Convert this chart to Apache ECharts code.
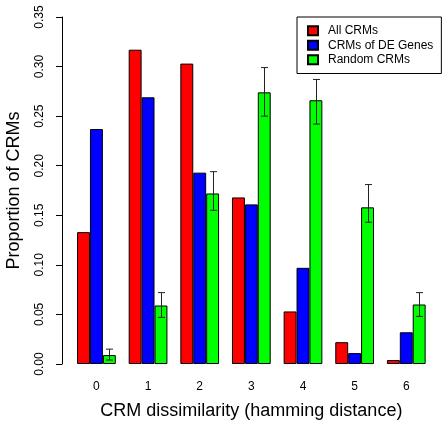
<!DOCTYPE html>
<html>
<head>
<meta charset="utf-8">
<script src="https://cdn.jsdelivr.net/npm/echarts@6/dist/echarts.min.js"></script>
<style>html,body{margin:0;padding:0;background:#fff;}#c{width:443px;height:426px;}</style>
</head>
<body>
<div id="c"></div>
<script>
const categories = ['0','1','2','3','4','5','6'];
const allCRMs = [0.133, 0.317, 0.303, 0.168, 0.053, 0.022, 0.004];
const deCRMs = [0.237, 0.269, 0.193, 0.161, 0.097, 0.011, 0.032];
const randomCRMs = [0.009, 0.059, 0.172, 0.274, 0.266, 0.158, 0.060];
const randomLow = [0.004, 0.047, 0.155, 0.250, 0.242, 0.143, 0.048];
const randomHigh = [0.015, 0.072, 0.194, 0.299, 0.287, 0.181, 0.072];
const yTicks = [0, 0.05, 0.10, 0.15, 0.20, 0.25, 0.30, 0.35];

const chart = echarts.init(document.getElementById('c'), null, {renderer:'canvas'});
const font = 'Liberation Sans, Arial, Helvetica, sans-serif';
const barStyle = c => ({color: c, borderColor: '#000', borderWidth: 1});
const option = {
  animation: false,
  backgroundColor: '#fff',
  textStyle: {fontFamily: font},
  grid: {left: 70.6, right: 10.9, top: 17, bottom: 62, containLabel: false, outerBoundsMode: 'none'},
  legend: {
    orient: 'vertical', left: 297, top: 17,
    borderColor: '#000', borderWidth: 1, borderRadius: 0,
    padding: [7, 8, 7, 10],
    itemWidth: 10, itemHeight: 9, itemGap: 1,
    icon: 'rect',
    textStyle: {fontFamily: font, fontSize: 12, color: '#000', padding: [0,0,0,5], lineHeight: 14.5, height: 13.5},
    data: ['All CRMs', 'CRMs of DE Genes', 'Random CRMs']
  },
  xAxis: {
    type: 'category', data: categories,
    axisLine: {show: false}, axisTick: {show: false},
    axisLabel: {color: '#000', fontSize: 12, margin: 17, fontFamily: font},
    name: 'CRM dissimilarity (hamming distance)', nameLocation: 'middle', nameGap: 38,
    nameTextStyle: {fontSize: 18, color: '#000', fontFamily: font}
  },
  yAxis: {
    type: 'value', min: 0, max: 0.35, interval: 0.05, offset: 8.6,
    splitLine: {show: false},
    axisLine: {show: true, lineStyle: {color: '#000', width: 1}},
    axisTick: {show: true, length: 6, lineStyle: {color: '#000'}},
    axisLabel: {color: '#000', fontSize: 12, rotate: 90, margin: 16, fontFamily: font,
      formatter: v => v.toFixed(2)},
    name: 'Proportion of CRMs', nameLocation: 'middle', nameGap: 39, nameRotate: 90,
    nameTextStyle: {fontSize: 18, color: '#000', fontFamily: font}
  },
  series: [
    {name: 'All CRMs', type: 'bar', data: allCRMs, barGap: '0%', barCategoryGap: '25%', itemStyle: barStyle('#FF0000')},
    {name: 'CRMs of DE Genes', type: 'bar', data: deCRMs, barGap: '0%', barCategoryGap: '25%', itemStyle: barStyle('#0000FF')},
    {name: 'Random CRMs', type: 'bar', data: randomCRMs, barGap: '0%', barCategoryGap: '25%', itemStyle: barStyle('#00FF00')},
    {
      type: 'custom', silent: true, z: 10,
      data: categories.map((c, i) => [i, randomLow[i], randomHigh[i]]),
      renderItem: (params, api) => {
        const i = api.value(0);
        const lo = api.coord([i, api.value(1)]);
        const hi = api.coord([i, api.value(2)]);
        const band = api.size([1, 0])[0];
        const x = Math.round(lo[0] + band * 0.25) + 0.5;
        const cap = 3.5;
        const st = {stroke: '#222', lineWidth: 1};
        return {type: 'group', children: [
          {type: 'line', shape: {x1: x, y1: lo[1], x2: x, y2: hi[1]}, style: st},
          {type: 'line', shape: {x1: x - cap, y1: lo[1], x2: x + cap, y2: lo[1]}, style: st},
          {type: 'line', shape: {x1: x - cap, y1: hi[1], x2: x + cap, y2: hi[1]}, style: st}
        ]};
      }
    }
  ]
};
chart.setOption(option);
</script>
</body>
</html>
